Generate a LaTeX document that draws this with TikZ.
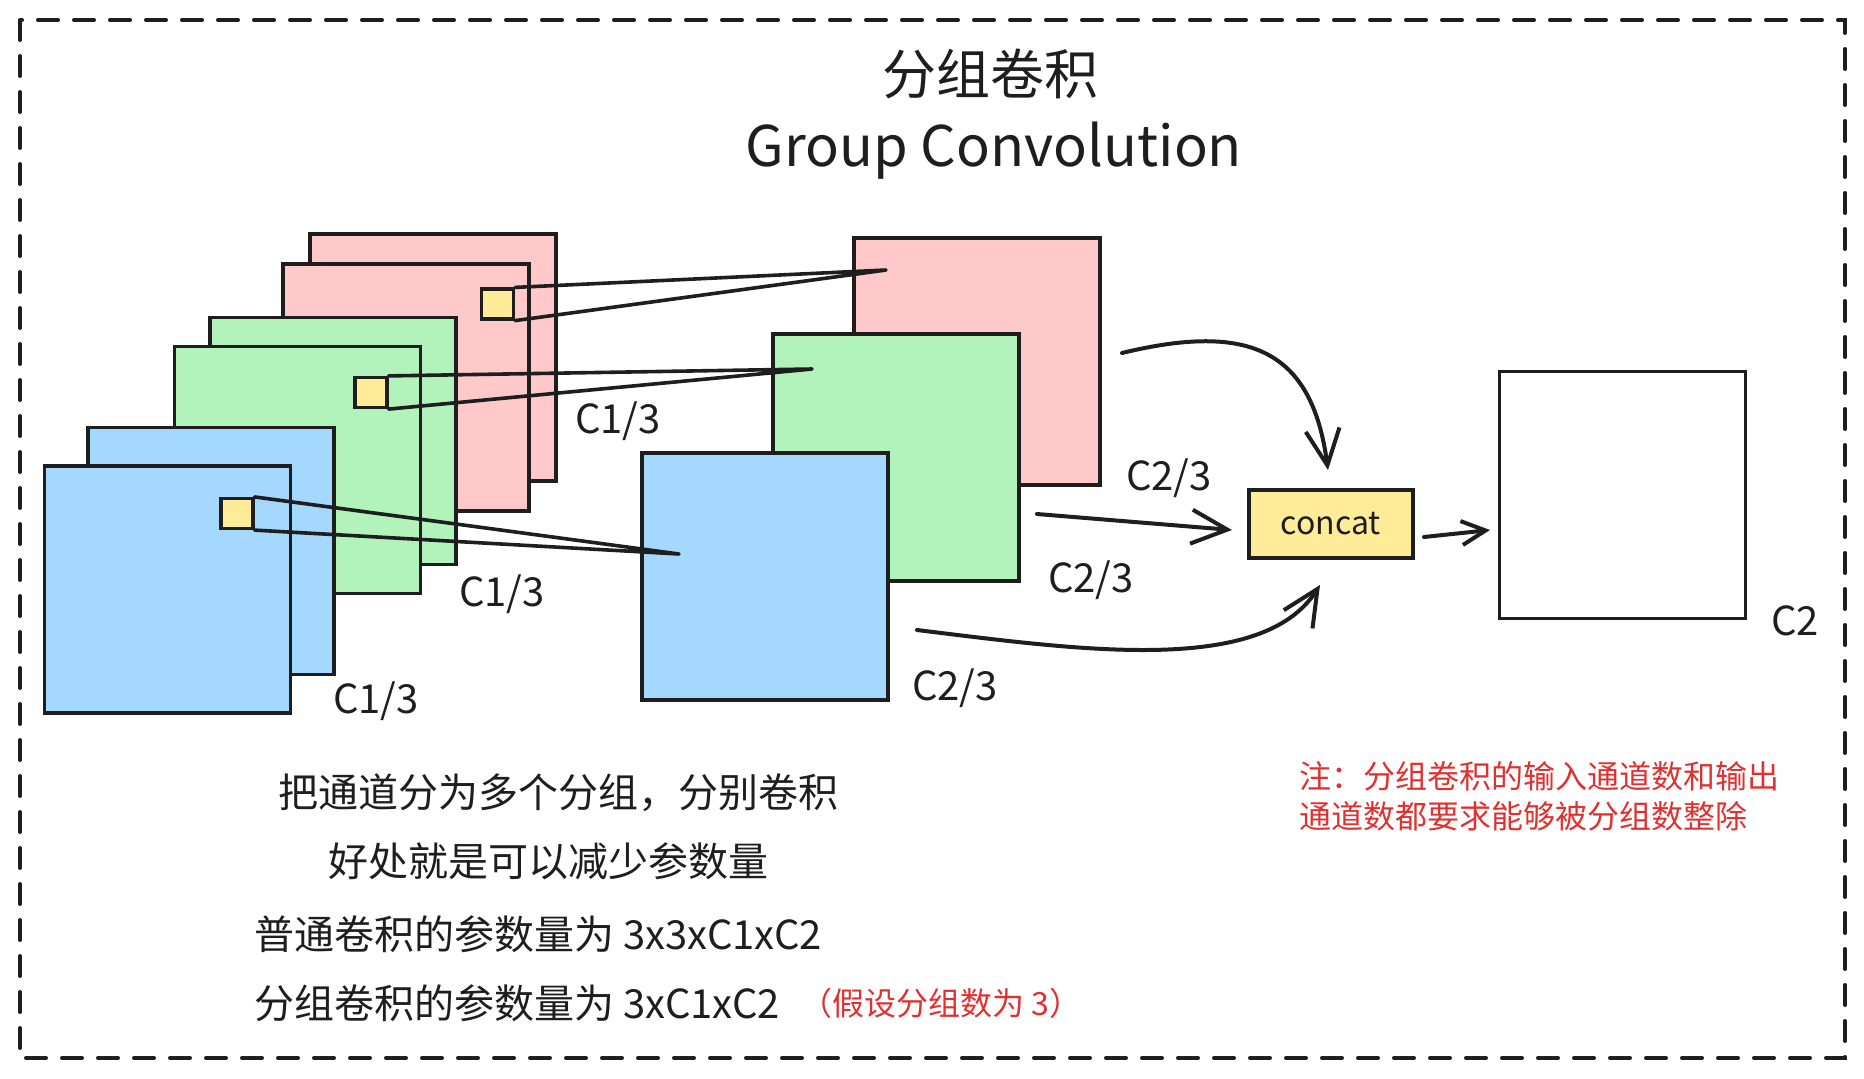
\documentclass[tikz,border=0pt]{standalone}
\usepackage{fontspec}
\setmainfont{Noto Sans CJK SC}
\usetikzlibrary{arrows.meta}
\definecolor{ink}{HTML}{1E1E1E}
\definecolor{pinkc}{HTML}{FFC9C9}
\definecolor{greenc}{HTML}{B2F2BB}
\definecolor{bluec}{HTML}{A5D8FF}
\definecolor{yellowc}{HTML}{FFEC99}
\definecolor{redc}{HTML}{E03131}
\begin{document}
\begin{tikzpicture}[x=0.5pt,y=-0.5pt,
  sq/.style={draw=ink, line width=1.6pt, minimum width=123pt, minimum height=123.5pt, inner sep=0pt},
  ysq/.style={draw=ink, fill=yellowc, line width=1.6pt, minimum width=16pt, minimum height=15pt, inner sep=0pt},
  ln/.style={draw=ink, line width=1.8pt, line join=round, line cap=round},
  arr/.style={draw=ink, line width=2pt, line cap=round, -{Straight Barb[length=18pt,width=17pt,line width=2pt]}},
  sarr/.style={draw=ink, line width=2pt, line cap=round, -{Straight Barb[length=12pt,width=12pt,line width=2pt]}},
  lab/.style={inner sep=0pt, text=ink, font=\fontsize{20}{24}\selectfont},
  body/.style={inner sep=0pt, anchor=west, text=ink, font=\fontsize{20}{24}\selectfont},
  note/.style={inner sep=0pt, anchor=west, text=redc, font=\fontsize{16}{19}\selectfont}]
\useasboundingbox (0,0) rectangle (1864,1078);
% frame
\draw[ink, line width=2pt, dash pattern=on 10pt off 8pt, line cap=round] (20,20) rectangle (1845,1058);
% title
\node[inner sep=0pt, text=ink, font=\fontsize{27}{30}\selectfont] (title) at (990,74) {分组卷积};
\node[inner sep=0pt, text=ink, font=\fontsize{28}{32}\selectfont] (subtitle) at (994,151) {Group Convolution};
% input stacks
\node[sq, fill=pinkc] (pb) at (433,357.5) {};
\node[sq, fill=pinkc] (pf) at (406,387.5) {};
\node[sq, fill=greenc] (gb) at (333,441) {};
\node[sq, fill=greenc] (gf) at (297.5,470) {};
\node[sq, fill=bluec] (bb) at (211,551) {};
\node[sq, fill=bluec] (bf) at (167.5,589.5) {};
% output squares
\node[sq, fill=pinkc] (op) at (977,361.5) {};
\node[sq, fill=greenc] (og) at (896,457.5) {};
\node[sq, fill=bluec] (ob) at (765,576.5) {};
% kernels
\node[ysq] (yp) at (497.5,304) {};
\node[ysq] (yg) at (371,392.5) {};
\node[ysq] (yb) at (237,513.5) {};
\coordinate (tp) at (886,270);
\coordinate (tg) at (812,369);
\coordinate (tb) at (679,554);
\draw[ln] (yp.north east) -- (tp) -- (yp.south east);
\draw[ln] (yg.north east) -- (tg) -- (yg.south east);
\draw[ln] (yb.north east) -- (tb) -- (yb.south east);
% labels
\node[lab] (l1) at (618,421) {C1/3};
\node[lab] (l2) at (502,594) {C1/3};
\node[lab] (l3) at (376,701) {C1/3};
\node[lab] (l4) at (1169,478) {C2/3};
\node[lab] (l5) at (1091,580) {C2/3};
\node[lab] (l6) at (955,688) {C2/3};
\node[lab] (l7) at (1795,621) {C2};
% concat and result
\node[draw=ink, fill=yellowc, line width=1.6pt, minimum width=82pt, minimum height=34pt, inner sep=0pt,
      font=\fontsize{16}{19}\selectfont, text=ink] (cc) at (1331,524) {concat};
\node[sq, fill=white] (res) at (1622.5,495) {};
% arrows
\coordinate (a1s) at (1122,353);
\coordinate (a1e) at (1328,470);
\coordinate (a2s) at (1037,514);
\coordinate (a2e) at (1232,530);
\coordinate (a3s) at (917,630);
\coordinate (a3e) at (1320,585);
\coordinate (a4s) at (1424,537);
\coordinate (a4e) at (1490,530);
\draw[arr] (a1s) .. controls (1250,322) and (1312,350) .. (a1e);
\draw[arr] (a2s) -- (a2e);
\draw[arr] (a3s) .. controls (1080,650) and (1262,676) .. (a3e);
\draw[sarr] (a4s) -- (a4e);
% bottom text
\node[body] (t1) at (278,793) {把通道分为多个分组，分别卷积};
\node[body] (t2) at (328,861) {好处就是可以减少参数量};
\node[body] (t3) at (254,934) {普通卷积的参数量为 3x3xC1xC2};
\node[body] (t4) at (254,1003) {分组卷积的参数量为 3xC1xC2};
\node[note] (t5) at (800,1003) {（假设分组数为 3）};
\node[note] (n1) at (1299,776) {注：分组卷积的输入通道数和输出};
\node[note] (n2) at (1299,816) {通道数都要求能够被分组数整除};
\end{tikzpicture}
\end{document}
